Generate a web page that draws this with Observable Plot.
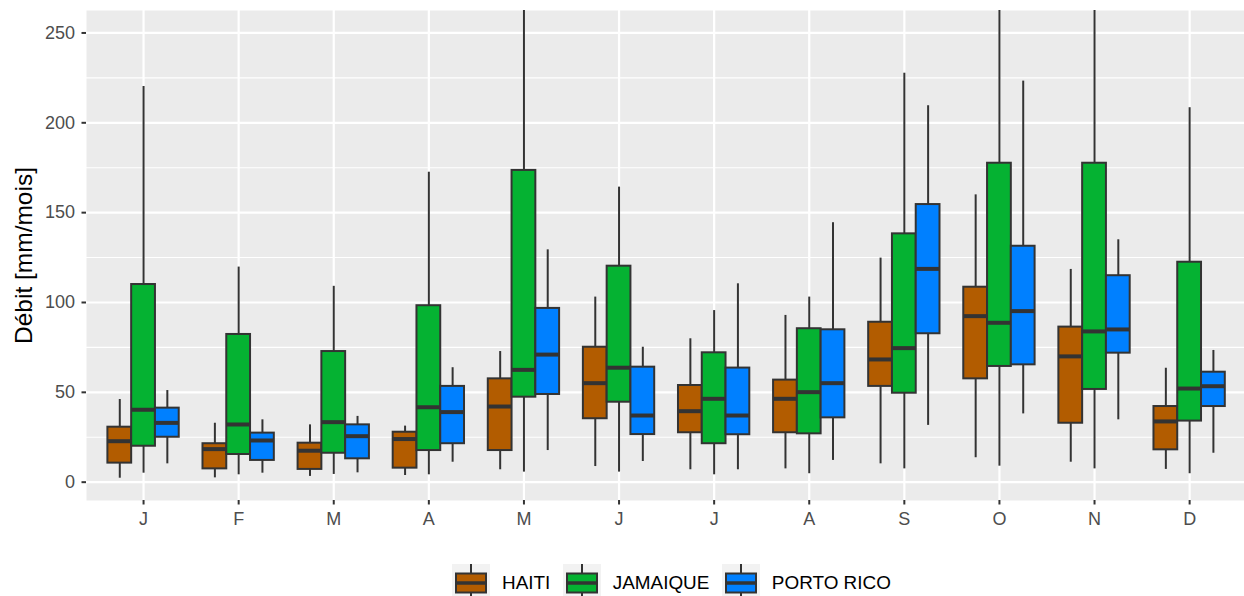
<!DOCTYPE html>
<html><head><meta charset="utf-8">
<script src="https://cdn.jsdelivr.net/npm/d3@7"></script>
<script src="https://cdn.jsdelivr.net/npm/@observablehq/plot@0.6"></script>
<style>
html,body{margin:0;padding:0;background:#fff;}
body{font-family:Arial,"Liberation Sans",sans-serif;width:1244px;height:596px;overflow:hidden;}
#legend{display:flex;align-items:center;margin-left:452px;padding-top:14px;height:38px;}
#legend .key{display:block;margin-right:12px;}
#legend .lab{font-size:18.9px;color:#000;margin-right:12.5px;line-height:38px;}
</style></head>
<body><div id="chart"></div><div id="legend"></div>
<script>
const months = ["J","F","M","A","M","J","J","A","S","O","N","D"];
const countries = ["HAITI","JAMAIQUE","PORTO RICO"];
const countryColors = ["#B25C00","#05B232","#0080FF"];
const yTicks = [0,50,100,150,200,250];
const yMinor = [25,75,125,175,225];

const haitiMin = [2.2, 2.4, 3.2, 3.7, 6.9, 8.7, 6.9, 7.4, 10.2, 13.6, 11.1, 7.1];
const haitiQ1  = [10.6, 7.4, 7.1, 7.8, 17.6, 35.3, 27.5, 27.5, 53.3, 57.5, 32.8, 18.0];
const haitiMed = [22.8, 18.4, 17.5, 24.0, 42.1, 55.1, 39.5, 46.4, 68.3, 92.4, 70.0, 33.8];
const haitiQ3  = [30.6, 21.4, 21.7, 27.8, 57.5, 75.1, 53.8, 56.8, 89.0, 108.5, 86.3, 42.1];
const haitiMax = [46.0, 32.8, 31.9, 31.2, 72.7, 103.0, 79.8, 92.8, 124.7, 159.9, 118.4, 63.4];

const jamMin = [5.0, 4.1, 4.3, 4.1, 5.6, 5.6, 4.1, 4.7, 7.4, 8.9, 7.4, 4.7];
const jamQ1  = [20.0, 15.4, 16.1, 17.6, 47.3, 44.5, 21.4, 26.9, 49.5, 64.4, 51.6, 34.0];
const jamMed = [40.3, 32.1, 33.4, 41.7, 62.5, 63.7, 46.4, 50.1, 74.6, 88.7, 83.9, 52.1];
const jamQ3  = [110.0, 82.2, 72.7, 98.2, 173.5, 120.2, 72.0, 85.4, 138.2, 177.5, 177.5, 122.4];
const jamMax = [220.2, 119.7, 109.0, 172.5, 295, 164.2, 95.5, 103.0, 227.6, 310, 285, 208.4];

const prMin = [10.2, 5.0, 5.2, 11.1, 17.6, 11.5, 6.9, 12.1, 31.6, 38.0, 34.7, 16.1];
const prQ1  = [25.0, 12.1, 13.0, 21.4, 48.8, 26.5, 26.4, 35.8, 82.6, 65.3, 71.8, 42.1];
const prMed = [33.0, 23.2, 25.6, 39.0, 71.0, 37.1, 37.1, 55.1, 118.7, 95.2, 85.0, 53.4];
const prQ3  = [41.2, 27.3, 31.9, 53.3, 96.7, 64.0, 63.5, 84.8, 154.5, 131.3, 114.9, 61.2];
const prMax = [51.0, 34.7, 36.6, 63.7, 129.3, 75.1, 110.4, 144.4, 209.5, 223.2, 134.9, 73.3];

const stats = [
  [haitiMin, haitiQ1, haitiMed, haitiQ3, haitiMax],
  [jamMin, jamQ1, jamMed, jamQ3, jamMax],
  [prMin, prQ1, prMed, prQ3, prMax]
];

const dodge = 0.25, half = 0.125;
const rows = [];
countries.forEach((c, ci) => {
  const [mn, q1, md, q3, mx] = stats[ci];
  months.forEach((m, mi) => {
    const xc = mi + 1 + (ci - 1) * dodge;
    rows.push({country: c, month: mi + 1, xc, xa: xc - half, xb: xc + half,
      min: mn[mi], q1: q1[mi], med: md[mi], q3: q3[mi], max: mx[mi]});
  });
});
const monthIdx = months.map((m, i) => i + 1);

const chart = Plot.plot({
  width: 1244, height: 550,
  marginLeft: 86, marginRight: 0, marginTop: 10, marginBottom: 50,
  style: {fontFamily: "Arial, 'Liberation Sans', sans-serif", fontSize: "18px", color: "#4D4D4D", background: "white", overflow: "visible"},
  x: {domain: [0.4, 12.577], axis: null},
  y: {domain: [-10.2, 262.5], axis: null},
  color: {domain: countries, range: countryColors},
  marks: [
    Plot.frame({fill: "#EBEBEB", stroke: null}),
    Plot.gridY(yMinor, {stroke: "white", strokeOpacity: 1, strokeWidth: 1.1}),
    Plot.gridY(yTicks, {stroke: "white", strokeOpacity: 1, strokeWidth: 2.2}),
    Plot.gridX(monthIdx, {stroke: "white", strokeOpacity: 1, strokeWidth: 2.2}),
    Plot.axisY(yTicks, {tickSize: 4.5, tickPadding: 7, stroke: "#333333", strokeWidth: 2, fill: "#4D4D4D", fontSize: 18, label: null}),
    Plot.axisX(monthIdx, {tickSize: 4.5, tickPadding: 7, stroke: "#333333", strokeWidth: 2, fill: "#4D4D4D", fontSize: 18, label: null, tickFormat: i => months[i - 1]}),
    Plot.ruleX(rows, {x: "xc", y1: "min", y2: "q1", stroke: "#333333", strokeWidth: 2, clip: true}),
    Plot.ruleX(rows, {x: "xc", y1: "q3", y2: "max", stroke: "#333333", strokeWidth: 2, clip: true}),
    Plot.rect(rows, {x1: "xa", x2: "xb", y1: "q1", y2: "q3", fill: "country", stroke: "#333333", strokeWidth: 2, clip: true}),
    Plot.ruleY(rows, {y: "med", x1: "xa", x2: "xb", stroke: "#333333", strokeWidth: 4}),
    Plot.text(["Débit [mm/mois]"], {frameAnchor: "left", textAnchor: "middle", lineAnchor: "middle", rotate: -90, dx: -62, fontSize: 24.5, fill: "black"})
  ]
});
document.getElementById("chart").appendChild(chart);

const legend = document.getElementById("legend");
const ns = "http://www.w3.org/2000/svg";
countries.forEach((c, i) => {
  const svg = document.createElementNS(ns, "svg");
  svg.setAttribute("width", 38); svg.setAttribute("height", 38);
  svg.setAttribute("class", "key");
  svg.innerHTML =
    `<rect x="0" y="0" width="38" height="38" fill="#F2F2F2"/>` +
    `<line x1="19" x2="19" y1="0" y2="38" stroke="#333333" stroke-width="2"/>` +
    `<rect x="4" y="9.5" width="30" height="19" fill="${countryColors[i]}" stroke="#333333" stroke-width="2"/>` +
    `<line x1="4" x2="34" y1="19" y2="19" stroke="#333333" stroke-width="3.5"/>`;
  legend.appendChild(svg);
  const lab = document.createElement("span");
  lab.className = "lab"; lab.textContent = c;
  legend.appendChild(lab);
});
</script></body></html>
